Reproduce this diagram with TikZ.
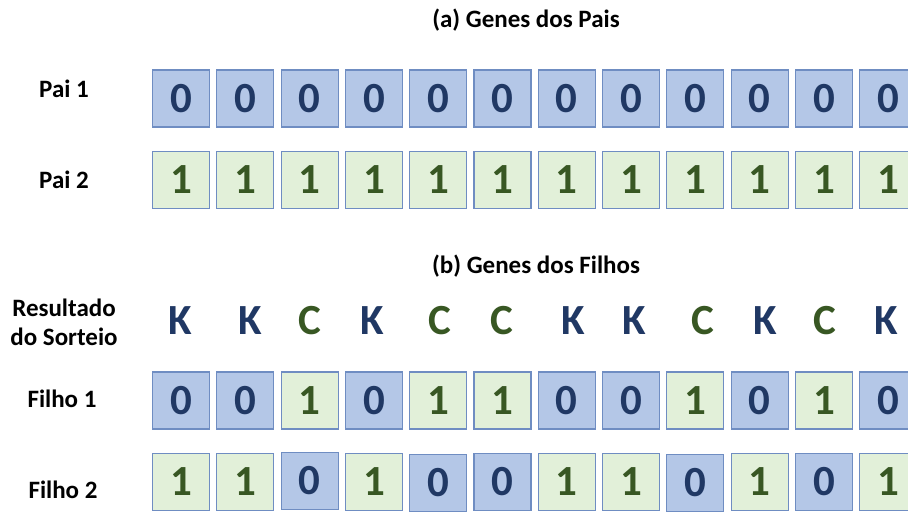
\documentclass[tikz,border=0pt]{standalone}
\usepackage{fontspec}
\setmainfont{Carlito}
\definecolor{bfill}{HTML}{B4C7E7}
\definecolor{gfill}{HTML}{E2F0D9}
\definecolor{bedge}{HTML}{6F8DC2}
\definecolor{btext}{HTML}{203864}
\definecolor{gtext}{HTML}{385723}
\begin{document}
\begin{tikzpicture}[x=1pt,y=-1pt,
  gene/.style={draw=bedge,line width=1.1pt,minimum width=57pt,minimum height=57pt,inner sep=0pt,
    font=\fontsize{43}{43}\selectfont\bfseries},
  zero/.style={gene,fill=bfill,text=btext},
  one/.style={gene,fill=gfill,text=gtext},
  lbl/.style={font=\fontsize{25}{29}\selectfont\bfseries,align=center},
  ttl/.style={font=\fontsize{25}{29}\selectfont\bfseries},
  sortK/.style={font=\fontsize{43}{43}\selectfont\bfseries,text=btext},
  sortC/.style={font=\fontsize{43}{43}\selectfont\bfseries,text=gtext}]
\useasboundingbox (0,0) rectangle (908,513);
\clip (0,0) rectangle (908,513);

\node[ttl] (ta) at (526,20) {(a) Genes dos Pais};
\node[ttl] (tb) at (536,266) {(b) Genes dos Filhos};

\node[lbl] (lp1) at (64,89) {Pai 1};
\node[lbl] (lp2) at (64,180) {Pai 2};
\node[lbl] (lrs) at (64,322) {Resultado\\do Sorteio};
\node[lbl] (lf1) at (62,399) {Filho 1};
\node[lbl] (lf2) at (63,490) {Filho 2};

% Pai 1 and Pai 2
\foreach \i in {0,...,11}{
  \node[zero] (p1-\i) at ({181+64.3*\i},98.5) {0};
  \node[one]  (p2-\i) at ({181+64.3*\i},180) {1};
}

% Sorteio
\foreach \x/\c [count=\k] in {180/K,250/K,310/C,372/K,440/C,502/C,573/K,634/K,703/C,765/K,825/C,886/K}{
  \node[sort\c] (s-\k) at (\x,321) {\c};
}

% Filho 1
\foreach \v [count=\k from 0] in {0,0,1,0,1,1,0,0,1,0,1,0}{
  \ifnum\v=0
    \node[zero] (f1-\k) at ({181+64.3*\k},400.5) {0};
  \else
    \node[one] (f1-\k) at ({181+64.3*\k},400.5) {1};
  \fi
}

% Filho 2
\foreach \v/\dy [count=\k from 0] in {1/0,1/0,0/-1,1/0,0/1,0/0,1/0,1/0,0/1,1/0,0/0,1/0}{
  \ifnum\v=0
    \node[zero] (f2-\k) at ({181+64.3*\k},482+\dy) {0};
  \else
    \node[one] (f2-\k) at ({181+64.3*\k},482+\dy) {1};
  \fi
}
\end{tikzpicture}
\end{document}
